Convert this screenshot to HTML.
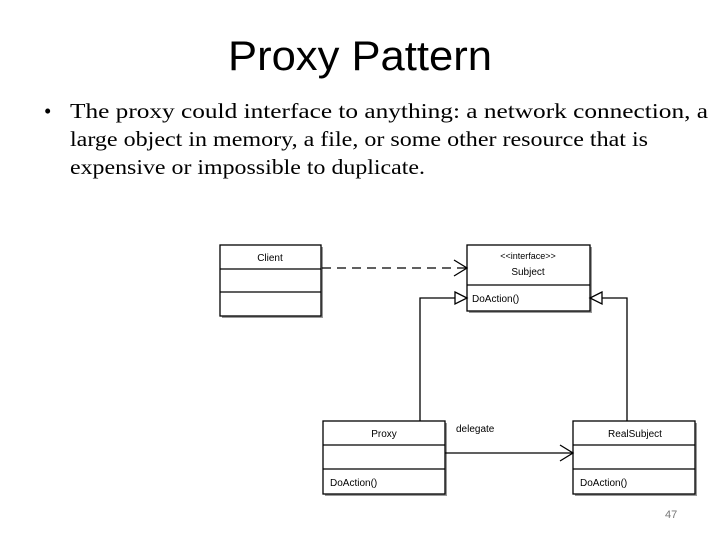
<!DOCTYPE html>
<html><head><meta charset="utf-8"><style>
html,body{margin:0;padding:0;background:#fff;width:720px;height:540px;overflow:hidden}
</style></head><body>
<svg width="720" height="540" xmlns="http://www.w3.org/2000/svg" font-family="Liberation Sans, sans-serif">
<text x="228" y="70" font-size="42" textLength="264" lengthAdjust="spacingAndGlyphs">Proxy Pattern</text>
<g font-family="Liberation Serif, serif" font-size="21">
<text x="44" y="118">•</text>
<text x="70" y="118" textLength="638" lengthAdjust="spacingAndGlyphs">The proxy could interface to anything: a network connection, a</text>
<text x="70" y="146" textLength="578" lengthAdjust="spacingAndGlyphs">large object in memory, a file, or some other resource that is</text>
<text x="70" y="174" textLength="355" lengthAdjust="spacingAndGlyphs">expensive or impossible to duplicate.</text>
</g>
<g stroke="#000" fill="none" stroke-width="1.3">
<!-- shadows -->
<g stroke="#999" stroke-width="2">
<polyline points="322,247 322,317 222,317"/>
<polyline points="591,247 591,312 469,312"/>
<polyline points="446,423 446,495 325,495"/>
<polyline points="696,423 696,495 575,495"/>
</g>
<rect x="220" y="245" width="101" height="71" fill="#fff"/>
<line x1="220" y1="269" x2="321" y2="269"/><line x1="220" y1="292" x2="321" y2="292"/>
<rect x="467" y="245" width="123" height="66" fill="#fff"/>
<line x1="467" y1="285" x2="590" y2="285"/>
<rect x="323" y="421" width="122" height="73" fill="#fff"/>
<line x1="323" y1="445" x2="445" y2="445"/><line x1="323" y1="469" x2="445" y2="469"/>
<rect x="573" y="421" width="122" height="73" fill="#fff"/>
<line x1="573" y1="445" x2="695" y2="445"/><line x1="573" y1="469" x2="695" y2="469"/>
<line x1="322" y1="268" x2="466" y2="268" stroke-dasharray="9,6"/>
<polyline points="454,260 467,268 454,276"/>
<polyline points="420,421 420,298 455,298"/>
<polygon points="455,292 467,298 455,304"/>
<polyline points="627,421 627,298 602,298"/>
<polygon points="602,292 590,298 602,304"/>
<line x1="445" y1="453" x2="572" y2="453"/>
<polyline points="560,445 573,453 560,461"/>
</g>
<g font-size="10" fill="#000">
<text x="270" y="261" text-anchor="middle">Client</text>
<text x="528" y="259" text-anchor="middle" font-size="9">&lt;&lt;interface&gt;&gt;</text>
<text x="528" y="275" text-anchor="middle">Subject</text>
<text x="472" y="302">DoAction()</text>
<text x="384" y="437" text-anchor="middle">Proxy</text>
<text x="635" y="437" text-anchor="middle">RealSubject</text>
<text x="330" y="486">DoAction()</text>
<text x="580" y="486">DoAction()</text>
<text x="456" y="432">delegate</text>
</g>
<text x="665" y="518" font-size="11" fill="#777">47</text>
</svg>
</body></html>
